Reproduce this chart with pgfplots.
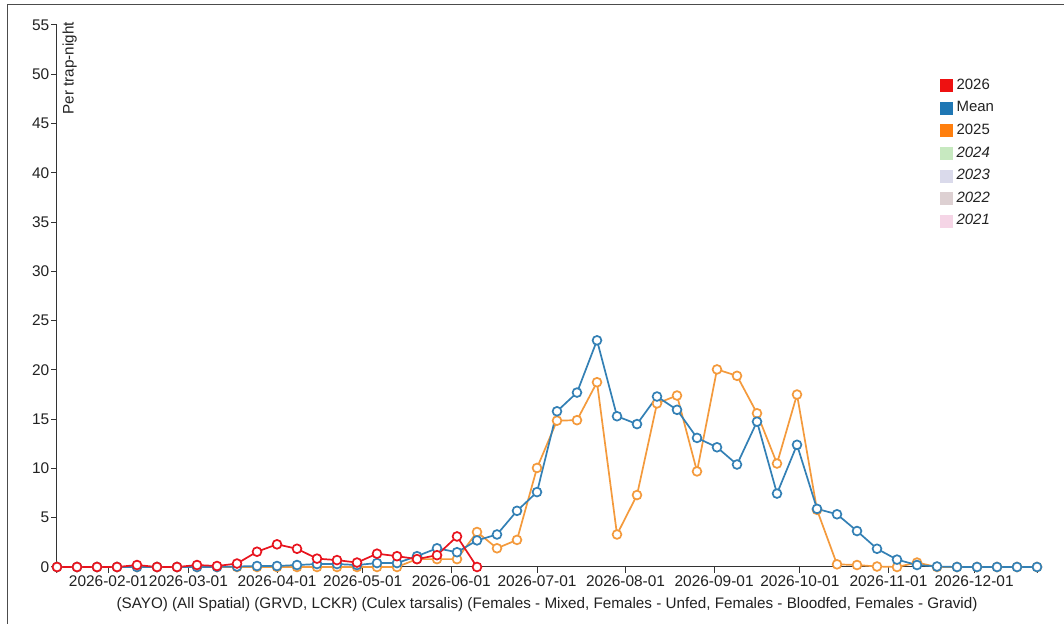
\documentclass[border=0pt]{standalone}
\usepackage{pgfplots}
\pgfplotsset{compat=1.18}
\usepackage{pgfplotstable}
\usepackage{fontspec}
\setmainfont{Liberation Sans}
\definecolor{c26}{HTML}{E8141E}
\definecolor{cmean}{HTML}{3380B5}
\definecolor{c25}{HTML}{F49A3C}
\definecolor{l26}{HTML}{EE1111}
\definecolor{lmean}{HTML}{1F77B4}
\definecolor{l25}{HTML}{FF7F0E}
\definecolor{l24}{HTML}{C7E9C0}
\definecolor{l23}{HTML}{DADAEB}
\definecolor{l22}{HTML}{DDD0D2}
\definecolor{l21}{HTML}{F5D5E6}
\definecolor{txt}{HTML}{222222}

% day of year (Jan 1 = 0) and per trap-night values
\pgfplotstableread{
day mean y2025
13 0 0
20 0 0
27 0 0
34 0 0
41 0 0
48 0 0
55 0 0
62 0 0
69 0 0
76 0.05 0
83 0.1 0
90 0.1 0
97 0.2 0
104 0.3 0
111 0.3 0
118 0.2 0
125 0.4 0
132 0.4 0
139 1.1 0.8
146 1.9 0.8
153 1.5 0.8
160 2.7 3.55
167 3.3 1.9
174 5.7 2.75
181 7.6 10.05
188 15.8 14.85
195 17.7 14.9
202 23.0 18.75
209 15.3 3.3
216 14.5 7.3
223 17.3 16.6
230 15.95 17.4
237 13.1 9.7
244 12.15 20.05
251 10.4 19.4
258 14.75 15.6
265 7.45 10.5
272 12.4 17.5
279 5.9 5.8
286 5.35 0.27
293 3.65 0.2
300 1.85 0.05
307 0.75 0
314 0.2 0.45
321 0.05 0
328 0 0
335 0 0
342 0 0
349 0 0
356 0 0
}\tblmain

\pgfplotstableread{
day y2026
13 0
20 0
27 0
34 0
41 0.2
48 0
55 0
62 0.2
69 0.1
76 0.35
83 1.55
90 2.3
97 1.85
104 0.85
111 0.7
118 0.45
125 1.35
132 1.1
139 0.8
146 1.2
153 3.1
160 0
}\tblred

\pgfplotsset{sq/.style={legend image code/.code={\fill[#1] (0bp,-6bp) rectangle (12bp,6bp);}}}

\begin{document}
\begin{tikzpicture}
\path[use as bounding box] (0bp,0bp) rectangle (1064bp,624bp);
\fill[white] (0bp,0bp) rectangle (1064bp,624bp);
\draw[black!70, line width=1bp] (7bp,0bp) -- (7bp,619bp) -- (1064bp,619bp);
\begin{axis}[
  at={(57bp,57bp)}, anchor=south west,
  scale only axis, width=980bp, height=542bp,
  xmin=13, xmax=356, ymin=0, ymax=55,
  axis lines=left,
  axis line style={-, draw=black!80, line width=1bp},
  tick align=outside, major tick length=6bp,
  tick style={black!80, line width=1bp},
  xtick={31,59,90,120,151,181,212,243,273,304,334},
  xticklabels={2026-02-01,2026-03-01,2026-04-01,2026-05-01,2026-06-01,2026-07-01,2026-08-01,2026-09-01,2026-10-01,2026-11-01,2026-12-01},
  extra x ticks={13,356}, extra x tick labels={,},
  ytick={0,5,...,55},
  /pgf/number format/assume math mode=true,
  every tick label/.append style={font=\fontsize{15.5}{18}\selectfont, text=txt},
  yticklabel style={inner sep=1.5bp},
  xticklabel style={inner sep=3bp},
  ylabel={Per trap-night},
  every axis y label/.style={at={(axis description cs:0.0055,1.0055)}, rotate=90, anchor=north east, inner sep=0pt, font=\fontsize{15.3}{17}\selectfont, text=txt},
  xlabel={(SAYO) (All Spatial) (GRVD, LCKR) (Culex tarsalis) (Females - Mixed, Females - Unfed, Females - Bloodfed, Females - Gravid)},
  every axis x label/.style={at={(axis description cs:0.5,0)}, anchor=north, yshift=-30bp, inner sep=0pt, font=\fontsize{15.3}{17}\selectfont, text=txt},
  legend style={at={(axis description cs:0.901,0.902)}, anchor=north west, draw=none, fill=none,
    font=\fontsize{15}{17}\selectfont, text=txt, inner sep=0pt, row sep=8.6bp, column sep=4bp,
    nodes={inner sep=0pt, text height=11bp, text depth=3bp}},
  legend cell align=left,
  clip=false,
]
\addplot[c25, line width=1.7bp, mark=*, mark size=4.4bp, mark options={fill=white, draw=c25, line width=1.7bp}, forget plot] table[x=day, y=y2025] {\tblmain};
\addplot[cmean, line width=1.7bp, mark=*, mark size=4.4bp, mark options={fill=white, draw=cmean, line width=1.7bp}, forget plot] table[x=day, y=mean] {\tblmain};
\addplot[c26, line width=1.7bp, mark=*, mark size=4.4bp, mark options={fill=white, draw=c26, line width=1.7bp}, forget plot] table[x=day, y=y2026] {\tblred};
\addlegendimage{sq=l26}
\addlegendentry{2026}
\addlegendimage{sq=lmean}
\addlegendentry{Mean}
\addlegendimage{sq=l25}
\addlegendentry{2025}
\addlegendimage{sq=l24}
\addlegendentry{\textit{2024}}
\addlegendimage{sq=l23}
\addlegendentry{\textit{2023}}
\addlegendimage{sq=l22}
\addlegendentry{\textit{2022}}
\addlegendimage{sq=l21}
\addlegendentry{\textit{2021}}
\end{axis}
\end{tikzpicture}
\end{document}
